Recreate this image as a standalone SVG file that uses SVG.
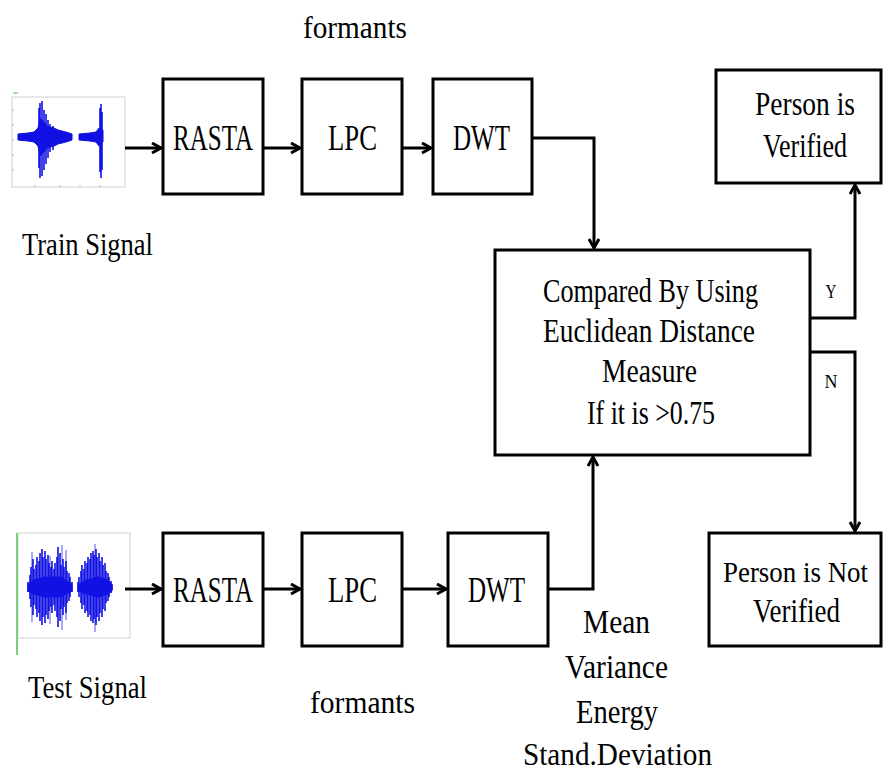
<svg xmlns="http://www.w3.org/2000/svg" width="883" height="771" viewBox="0 0 883 771">
<defs>
<style>
.box{fill:#fff;stroke:#000;stroke-width:3}
.t{font-family:"Liberation Serif","Times New Roman",serif;fill:#000;text-anchor:middle}
.conn path{fill:none;stroke:#000;stroke-width:3;marker-end:url(#arr)}
.frame{fill:#fff;stroke:#d0d0d0;stroke-width:1}
.wave{fill:#1010e0;stroke:#1010e0;stroke-width:1}
.spike{stroke:#1212e4;stroke-width:1.6;fill:none}
</style>
<marker id="arr" markerUnits="userSpaceOnUse" markerWidth="14" markerHeight="14" refX="10" refY="6" orient="auto">
<path d="M1,1 L10,6 L1,11" fill="none" stroke="#000" stroke-width="3"/>
</marker>
</defs>
<rect width="883" height="771" fill="#fff"/>

<g id="train-signal">
<rect class="frame" x="12" y="97" width="113" height="90"/>
<path d="M12,110 h2 M12,125 h2 M12,140 h2 M12,155 h2 M12,170 h2 M35,187 v-2 M60,187 v-2 M80,187 v-2 M100,187 v-2" stroke="#bbb" stroke-width="1"/>
<path d="M13,93 h5" stroke="#4c4" stroke-width="1"/>
<path class="wave" d="M18,134 L28,133 L34,132 L38,128 L40,118 L44,122 L47,126 L50,127 L54,128 L58,130 L62,131 L66,132 L72,134 L72,140 L66,142 L62,143 L58,144 L54,146 L50,147 L47,148 L44,152 L40,156 L38,146 L34,142 L28,141 L18,140 Z"/>
<path class="spike" stroke-width="2" d="M39,108 V168 M40,103 V178 M42,101 V176 M44,110 V170 M46,114 V164 M48,120 V158 M50,124 V152 M53,126 V150"/>
<path class="wave" d="M79,134 L90,133 L96,132 L99,128 L103,130 L103,142 L99,146 L96,142 L90,141 L79,140 Z"/>
<path class="spike" stroke-width="2" d="M100,108 V172 M101,104 V178 M102,112 V170"/>
</g>

<g id="test-signal">
<rect class="frame" x="18" y="533" width="112" height="105"/>
<path d="M17,533 V655" stroke="#7ccf7c" stroke-width="2"/>
<path class="wave" d="M28,584 L34,580 L44,577 L60,577 L72,584 L72,591 L60,597 L44,597 L34,594 L28,591 Z M78,585 L86,580 L98,577 L108,580 L112,585 L112,591 L108,594 L98,597 L86,594 L78,591 Z"/>
<path class="spike" d="M28,582 V592 M30,575 V599 M31,567 V607 M33,559 V615 M34,569 V605 M36,565 V609 M37,557 V617 M39,561 V613 M40,553 V621 M42,549 V625 M43,557 V617 M45,551 V623 M46,559 V615 M48,555 V619 M49,563 V611 M51,567 V607 M52,561 V613 M54,569 V605 M55,563 V611 M57,557 V617 M58,547 V627 M60,553 V621 M61,565 V609 M63,559 V615 M64,567 V607 M66,561 V613 M67,571 V603 M69,573 V601 M70,577 V597 M72,582 V592"/>
<path class="spike" d="M78,582 V592 M79,577 V597 M81,571 V603 M82,565 V609 M84,569 V605 M85,561 V613 M87,563 V611 M88,557 V617 M90,559 V615 M91,553 V621 M93,551 V623 M94,555 V619 M96,549 V625 M97,557 V617 M99,553 V621 M100,561 V613 M102,557 V617 M103,565 V609 M105,563 V611 M106,571 V603 M108,573 V601 M109,577 V597 M111,581 V593 M112,584 V590"/>
<path class="spike" stroke-width="1" opacity="0.45" d="M32,552 V622 M62,545 V630 M66,550 V620 M95,544 V632 M50,556 V624"/>
</g>

<g id="rasta-1"><rect class="box" x="163" y="79" width="100" height="115"/><text class="t" x="213" y="150" font-size="36" textLength="80" lengthAdjust="spacingAndGlyphs">RASTA</text></g>
<g id="lpc-1"><rect class="box" x="302" y="79" width="100" height="115"/><text class="t" x="352.5" y="150" font-size="36" textLength="49" lengthAdjust="spacingAndGlyphs">LPC</text></g>
<g id="dwt-1"><rect class="box" x="433" y="79" width="99" height="115"/><text class="t" x="481.5" y="150" font-size="36" textLength="57" lengthAdjust="spacingAndGlyphs">DWT</text></g>

<g id="rasta-2"><rect class="box" x="163" y="533" width="100" height="113"/><text class="t" x="213" y="602" font-size="36" textLength="80" lengthAdjust="spacingAndGlyphs">RASTA</text></g>
<g id="lpc-2"><rect class="box" x="302" y="533" width="100" height="113"/><text class="t" x="352.5" y="602" font-size="36" textLength="49" lengthAdjust="spacingAndGlyphs">LPC</text></g>
<g id="dwt-2"><rect class="box" x="448" y="533" width="100" height="113"/><text class="t" x="496.5" y="602" font-size="36" textLength="57" lengthAdjust="spacingAndGlyphs">DWT</text></g>

<g id="compare"><rect class="box" x="495" y="250" width="315" height="205"/>
<text class="t" x="650.5" y="302" font-size="33" textLength="215" lengthAdjust="spacingAndGlyphs">Compared By Using</text>
<text class="t" x="649" y="342" font-size="33" textLength="212" lengthAdjust="spacingAndGlyphs">Euclidean Distance</text>
<text class="t" x="649.5" y="382" font-size="33" textLength="95" lengthAdjust="spacingAndGlyphs">Measure</text>
<text class="t" x="651" y="424" font-size="33" textLength="128" lengthAdjust="spacingAndGlyphs">If it is &gt;0.75</text>
</g>

<g id="verified"><rect class="box" x="716" y="70" width="165" height="113"/>
<text class="t" x="805" y="115" font-size="33" textLength="100" lengthAdjust="spacingAndGlyphs">Person is</text>
<text class="t" x="805" y="157" font-size="33" textLength="84" lengthAdjust="spacingAndGlyphs">Verified</text>
</g>
<g id="not-verified"><rect class="box" x="709" y="533" width="172" height="113"/>
<text class="t" x="795.5" y="582" font-size="30" textLength="145" lengthAdjust="spacingAndGlyphs">Person is Not</text>
<text class="t" x="796.5" y="622" font-size="33" textLength="87" lengthAdjust="spacingAndGlyphs">Verified</text>
</g>

<g id="labels">
<text class="t" x="355" y="38" font-size="31" textLength="104" lengthAdjust="spacingAndGlyphs">formants</text>
<text class="t" x="362.5" y="713" font-size="31" textLength="105" lengthAdjust="spacingAndGlyphs">formants</text>
<text class="t" x="87.5" y="255" font-size="31" textLength="131" lengthAdjust="spacingAndGlyphs">Train Signal</text>
<text class="t" x="87.5" y="698" font-size="31" textLength="119" lengthAdjust="spacingAndGlyphs">Test Signal</text>
<text class="t" x="616.5" y="633" font-size="34" textLength="67" lengthAdjust="spacingAndGlyphs">Mean</text>
<text class="t" x="616.5" y="678" font-size="34" textLength="103" lengthAdjust="spacingAndGlyphs">Variance</text>
<text class="t" x="617" y="723" font-size="34" textLength="82" lengthAdjust="spacingAndGlyphs">Energy</text>
<text class="t" x="617.5" y="765" font-size="32" textLength="189" lengthAdjust="spacingAndGlyphs">Stand.Deviation</text>
<text class="t" x="831" y="298" font-size="18" textLength="11" lengthAdjust="spacingAndGlyphs">Y</text>
<text class="t" x="831" y="388" font-size="18" textLength="13" lengthAdjust="spacingAndGlyphs">N</text>
</g>

<g id="connectors" class="conn">
<path d="M125,148 H161"/>
<path d="M263,148 H300"/>
<path d="M402,148 H431"/>
<path d="M532,138 H594 V248"/>
<path d="M125,589 H161"/>
<path d="M263,589 H300"/>
<path d="M402,589 H446"/>
<path d="M548,589 H593 V457"/>
<path d="M810,318 H855 V185"/>
<path d="M810,352 H855 V531"/>
</g>
</svg>
